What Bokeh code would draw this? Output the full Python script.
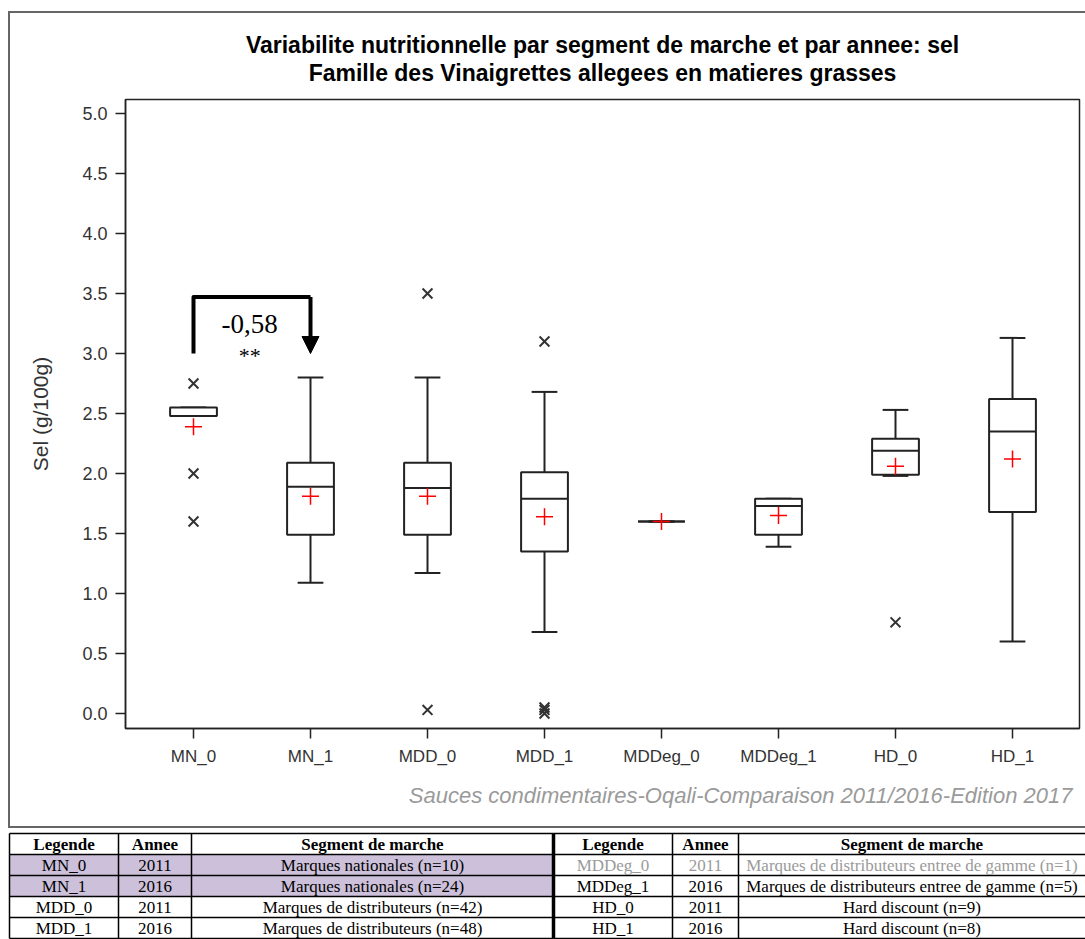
import numpy as np
from bokeh.plotting import figure
from bokeh.models import (Range1d, FixedTicker, Title, Arrow, NormalHead, Div,
                          ColumnDataSource, PrintfTickFormatter)
from bokeh.embed import file_html
from bokeh.resources import INLINE
from bokeh.core.properties import value

# ---------------- data ----------------
categories = ["MN_0", "MN_1", "MDD_0", "MDD_1", "MDDeg_0", "MDDeg_1", "HD_0", "HD_1"]
q1 =        [2.48, 1.49, 1.49, 1.35, 1.60, 1.49, 1.99, 1.68]
median =    [2.48, 1.89, 1.88, 1.79, 1.60, 1.73, 2.19, 2.35]
q3 =        [2.55, 2.09, 2.09, 2.01, 1.60, 1.79, 2.29, 2.62]
whisk_lo =  [2.48, 1.09, 1.17, 0.68, 1.60, 1.39, 1.98, 0.60]
whisk_hi =  [2.55, 2.80, 2.80, 2.68, 1.60, 1.79, 2.53, 3.13]
mean =      [2.39, 1.81, 1.81, 1.64, 1.60, 1.65, 2.06, 2.12]

outlier_cat = ["MN_0", "MN_0", "MN_0", "MDD_0", "MDD_0", "MDD_1", "MDD_1", "MDD_1", "MDD_1", "HD_0"]
outlier_val = [2.75, 2.00, 1.60, 3.50, 0.03, 3.10, 0.05, 0.03, 0.00, 0.76]

y_ticks = [0.0, 0.5, 1.0, 1.5, 2.0, 2.5, 3.0, 3.5, 4.0, 4.5, 5.0]

years = ["2011", "2016", "2011", "2016", "2011", "2016", "2011", "2016"]
segments = ["Marques nationales", "Marques nationales",
            "Marques de distributeurs", "Marques de distributeurs",
            "Marques de distributeurs entree de gamme", "Marques de distributeurs entree de gamme",
            "Hard discount", "Hard discount"]
n_obs = [10, 24, 42, 48, 1, 5, 9, 8]

title1 = "Variabilite nutritionnelle par segment de marche et par annee: sel"
title2 = "Famille des Vinaigrettes allegees en matieres grasses"
y_label = "Sel (g/100g)"
footnote = "Sauces condimentaires-Oqali-Comparaison 2011/2016-Edition 2017"
diff_label = "-0,58"
signif_label = "**"
table_header = ["Legende", "Annee", "Segment de marche"]

# ---------------- styling / layout ----------------
W = 1085
H1 = 825
H2 = 939 - H1
BOX_W = 0.40
CAP_W = 0.22
SANS = "Liberation Sans"
SERIF = "Liberation Serif"

xpos = list(range(len(categories)))
idx = {c: i for i, c in enumerate(categories)}

p = figure(width=W, height=H1, output_backend="svg", toolbar_location=None,
           x_range=Range1d(-0.5812, 7.5726), y_range=Range1d(-0.125, 5.1167),
           min_border_left=125, min_border_right=6, min_border_top=99, min_border_bottom=H1 - 728,
           background_fill_color="white", border_fill_color="white")
p.grid.visible = False
p.outline_line_color = "#222222"
p.outline_line_width = 1.5

# titles (first added = closest to frame)
p.add_layout(Title(text=title2, align="center", text_font=SANS, text_font_style="bold",
                   text_font_size="23px", text_color="black", standoff=27), "above")
p.add_layout(Title(text=title1, align="center", text_font=SANS, text_font_style="bold",
                   text_font_size="23px", text_color="black", standoff=-26), "above")

# axes
p.xaxis.ticker = FixedTicker(ticks=xpos)
p.xaxis.major_label_overrides = {i: c for i, c in enumerate(categories)}
p.yaxis.ticker = FixedTicker(ticks=y_ticks)
p.yaxis.formatter = PrintfTickFormatter(format="%.1f")
for ax in (p.xaxis[0], p.yaxis[0]):
    ax.axis_line_color = "#222222"
    ax.axis_line_width = 1.5
    ax.major_tick_line_color = "#222222"
    ax.major_tick_line_width = 1.5
    ax.major_tick_out = 10
    ax.major_tick_in = 0
    ax.minor_tick_line_color = None
    ax.major_label_text_font = SANS
    ax.major_label_text_color = "#333333"
    ax.major_label_standoff = 8
p.xaxis.major_label_text_font_size = "17px"
p.yaxis.major_label_text_font_size = "18px"
p.yaxis.axis_label = y_label
p.yaxis.axis_label_text_font = SANS
p.yaxis.axis_label_text_font_style = "normal"
p.yaxis.axis_label_text_font_size = "21px"
p.yaxis.axis_label_text_color = "#333333"
p.yaxis.axis_label_standoff = 27

p.add_layout(Title(text=footnote, align="right", text_font=SANS, text_font_style="italic",
                   text_font_size="22px", text_color="#9a9a9a", standoff=24, offset=7), "below")

# box plot
src = ColumnDataSource(dict(x=xpos, q1=q1, q3=q3, med=median, lo=whisk_lo, hi=whisk_hi, mean=mean,
                            bx0=[x - BOX_W / 2 for x in xpos], bx1=[x + BOX_W / 2 for x in xpos],
                            cx0=[x - CAP_W / 2 for x in xpos], cx1=[x + CAP_W / 2 for x in xpos]))
LC = "#222222"
p.segment(x0="x", y0="q3", x1="x", y1="hi", source=src, line_color=LC, line_width=2)
p.segment(x0="x", y0="q1", x1="x", y1="lo", source=src, line_color=LC, line_width=2)
p.segment(x0="cx0", y0="hi", x1="cx1", y1="hi", source=src, line_color=LC, line_width=2)
p.segment(x0="cx0", y0="lo", x1="cx1", y1="lo", source=src, line_color=LC, line_width=2)
p.vbar(x="x", bottom="q1", top="q3", width=BOX_W, source=src, fill_color="white",
       line_color=LC, line_width=2)
p.segment(x0="bx0", y0="med", x1="bx1", y1="med", source=src, line_color=LC, line_width=2)
p.scatter(x="x", y="mean", source=src, marker="cross", size=17, line_color="red", line_width=1.5)

p.scatter(x=[idx[c] for c in outlier_cat], y=outlier_val, marker="x", size=14,
          line_color="#333333", line_width=2)

# significance bracket between MN_0 and MN_1
b_x0, b_x1 = idx["MN_0"], idx["MN_1"]
b_low, b_top = 3.0, 3.47
p.line(x=[b_x0, b_x0, b_x1], y=[b_low, b_top, b_top], line_color="black", line_width=4,
       line_join="round")
p.add_layout(Arrow(end=NormalHead(size=17, fill_color="black", line_color="black", line_width=1),
                   x_start=b_x1, y_start=b_top, x_end=b_x1, y_end=b_low,
                   line_color="black", line_width=4))
p.text(x=[(b_x0 + b_x1) / 2 - 0.02], y=[3.25], text=[diff_label], text_align="center",
       text_baseline="middle", text_font=value(SERIF), text_font_size="27px", text_color="black")
p.text(x=[(b_x0 + b_x1) / 2 - 0.02], y=[2.98], text=[signif_label], text_align="center",
       text_baseline="middle", text_font=value(SERIF), text_font_size="22px", text_color="black")

# ---------------- table ----------------
t = figure(width=W, height=H2, output_backend="svg", toolbar_location=None,
           x_range=Range1d(0, W), y_range=Range1d(939, H1),
           x_axis_location=None, y_axis_location=None, min_border=0,
           background_fill_color="white", border_fill_color="white")
t.grid.visible = False
t.outline_line_color = None

col_edges = [[9, 118, 191, 553], [553, 672, 738, 1095]]
row_edges = [833, 854, 875, 896, 917, 938]

# shaded rows (MN_0, MN_1)
t.quad(left=[col_edges[0][0]], right=[col_edges[0][3]], top=[row_edges[1]], bottom=[row_edges[3]],
       fill_color="#ccc0da", line_color=None)

hx0, hx1, hy = [], [], []
for edges in col_edges:
    for r in row_edges:
        hx0.append(edges[0]); hx1.append(edges[3]); hy.append(r)
t.segment(x0=hx0, y0=hy, x1=hx1, y1=hy, line_color="black", line_width=1.5)
vx = [col_edges[0][0], col_edges[0][1], col_edges[0][2], col_edges[1][1], col_edges[1][2]]
t.segment(x0=vx, y0=[row_edges[0]] * len(vx), x1=vx, y1=[row_edges[-1]] * len(vx),
          line_color="black", line_width=1.5)
t.segment(x0=[col_edges[0][3]], y0=[row_edges[0]], x1=[col_edges[0][3]], y1=[row_edges[-1]],
          line_color="black", line_width=3.5)

tx, ty, ttext, tcol, tstyle = [], [], [], [], []
for k, edges in enumerate(col_edges):
    cx = [(edges[j] + edges[j + 1]) / 2 for j in range(3)]
    if k == 1:
        cx[2] = (edges[2] + W) / 2
    yc = (row_edges[0] + row_edges[1]) / 2
    for j in range(3):
        tx.append(cx[j]); ty.append(yc); ttext.append(table_header[j]); tcol.append("black"); tstyle.append("bold")
    for r in range(4):
        i = k * 4 + r
        yc = (row_edges[r + 1] + row_edges[r + 2]) / 2
        color = "#9a9a9a" if n_obs[i] < 2 else "black"
        cells = [categories[i], years[i], f"{segments[i]} (n={n_obs[i]})"]
        for j in range(3):
            tx.append(cx[j]); ty.append(yc); ttext.append(cells[j]); tcol.append(color); tstyle.append("normal")
tsrc = ColumnDataSource(dict(x=tx, y=ty, text=ttext, color=tcol, style=tstyle))
t.text(x="x", y="y", text="text", text_color="color", text_font_style="style", source=tsrc,
       text_align="center", text_baseline="middle", text_font=value(SERIF), text_font_size="17px")

# outer frame around the chart (an empty, absolutely placed box)
outer = Div(text="", width=1075, height=813, margin=0,
            styles={"position": "absolute", "left": "8px", "top": "11px", "margin": "0px",
                    "border-top": "2px solid #666666", "border-left": "2px solid #666666",
                    "border-bottom": "2px solid #666666", "box-sizing": "content-box",
                    "pointer-events": "none", "background": "transparent"})

open("out.html", "w").write(file_html([p, t, outer], INLINE))
